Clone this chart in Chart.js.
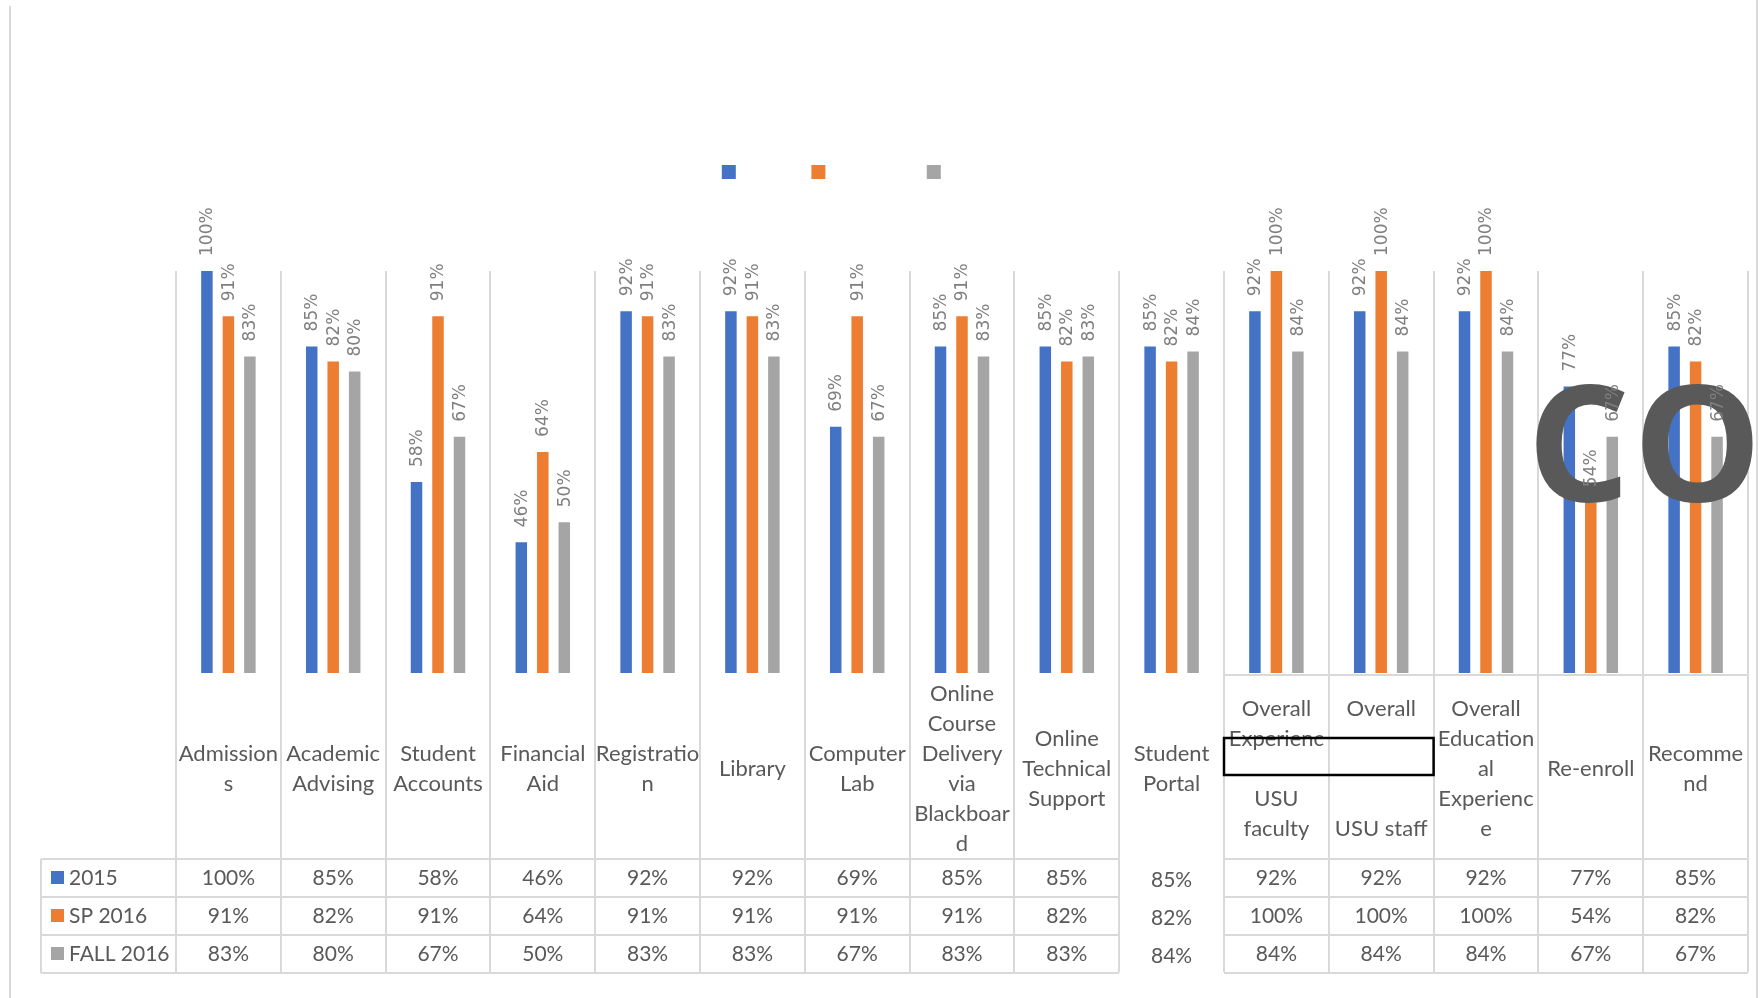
<!DOCTYPE html>
<html>
<head>
<meta charset="utf-8">
<script src="https://cdn.jsdelivr.net/npm/chart.js@4.4.0/dist/chart.umd.min.js"></script>
<style>
  html, body { margin: 0; padding: 0; background: #fff; }
</style>
</head>
<body>
<canvas id="surveyChart" width="1760" height="998"></canvas>
<script>
// category labels, wrapped the way the sheet wraps them
const categories = [
  ['Admission', 's'],
  ['Academic', 'Advising'],
  ['Student', 'Accounts'],
  ['Financial', 'Aid'],
  ['Registratio', 'n'],
  ['Library'],
  ['Computer', 'Lab'],
  ['Online', 'Course', 'Delivery', 'via', 'Blackboar', 'd'],
  ['Online', 'Technical', 'Support'],
  ['Student', 'Portal'],
  ['Overall', 'Experienc', '', 'USU', 'faculty'],
  ['Overall', '', '', '', 'USU staff'],
  ['Overall', 'Education', 'al', 'Experienc', 'e'],
  ['Re-enroll'],
  ['Recomme', 'nd']
];
const seriesNames = ['2015', 'SP 2016', 'FALL 2016'];
const values2015 = [100, 85, 58, 46, 92, 92, 69, 85, 85, 85, 92, 92, 92, 77, 85];
const valuesSp2016 = [91, 82, 91, 64, 91, 91, 91, 91, 82, 82, 100, 100, 100, 54, 82];
const valuesFall2016 = [83, 80, 67, 50, 83, 83, 67, 83, 83, 84, 84, 84, 84, 67, 67];
const seriesColors = ['#4472C4', '#ED7D31', '#A5A5A5'];

const textColor = '#595959';
const lineColor = '#d9d9d9';

// white page + the thin frame lines at the sides
const frame = {
  id: 'frame',
  beforeDraw(chart) {
    const ctx = chart.ctx;
    ctx.save();
    ctx.fillStyle = '#fff';
    ctx.fillRect(0, 0, chart.width, chart.height);
    ctx.strokeStyle = lineColor;
    ctx.lineWidth = 2;
    ctx.beginPath();
    ctx.moveTo(10, 6); ctx.lineTo(10, chart.height);
    ctx.moveTo(1757, 0); ctx.lineTo(1757, chart.height);
    ctx.stroke();
    ctx.restore();
  }
};

// rotated value labels + the big stamp letters
const barLabels = {
  id: 'barLabels',
  afterDatasetsDraw(chart) {
    const ctx = chart.ctx;
    ctx.save();
    ctx.fillStyle = textColor;
    ctx.font = 'bold 162px "Open Sans"';
    ctx.textAlign = 'left';
    ctx.textBaseline = 'alphabetic';
    ctx.fillText('C', 1527, 501);
    ctx.fillText('O', 1633, 501);

    ctx.font = '17px "DejaVu Sans"';
    ctx.fillStyle = '#7f7f7f';
    chart.data.datasets.forEach((ds, i) => {
      chart.getDatasetMeta(i).data.forEach((bar, j) => {
        ctx.save();
        ctx.translate(bar.x + 1, bar.y - 15);
        ctx.rotate(-Math.PI / 2);
        ctx.textAlign = 'left';
        ctx.textBaseline = 'middle';
        ctx.fillText(ds.data[j] + '%', 0, 0);
        ctx.restore();
      });
    });
    ctx.restore();
  }
};

// data table under the axis
const dataTable = {
  id: 'dataTable',
  afterDraw(chart) {
    const ctx = chart.ctx;
    const xs = chart.scales.x;
    const half = (xs.getPixelForValue(1) - xs.getPixelForValue(0)) / 2;
    const top = 859, rowH = 38, left = 41;
    const gapL = xs.getPixelForValue(9) - half;
    const gapR = xs.getPixelForValue(9) + half;
    const rows = [values2015, valuesSp2016, valuesFall2016];

    ctx.save();
    ctx.strokeStyle = lineColor;
    ctx.lineWidth = 2;
    ctx.beginPath();
    for (let r = 0; r <= rows.length; r++) {
      const y = top + r * rowH;
      ctx.moveTo(left, y); ctx.lineTo(gapL, y);
      ctx.moveTo(gapR, y); ctx.lineTo(xs.right, y);
    }
    ctx.moveTo(left, top); ctx.lineTo(left, top + rows.length * rowH);
    ctx.moveTo(gapR, chart.chartArea.bottom + 2); ctx.lineTo(xs.right, chart.chartArea.bottom + 2);
    ctx.stroke();

    // the stray black box over the faculty/staff labels
    ctx.strokeStyle = '#000';
    ctx.lineWidth = 2.5;
    ctx.strokeRect(xs.getPixelForValue(10) - half, 738, 4 * half, 37);

    ctx.font = '21px Lato';
    ctx.textBaseline = 'middle';
    rows.forEach((vals, r) => {
      const cy = top + r * rowH + rowH / 2;
      ctx.fillStyle = seriesColors[r];
      ctx.fillRect(51, cy - 7, 13, 13);
      ctx.fillStyle = textColor;
      ctx.textAlign = 'left';
      ctx.fillText(seriesNames[r], 69, cy);
      ctx.textAlign = 'center';
      vals.forEach((v, i) => {
        const dy = i === 9 ? 2 : 0;
        ctx.fillText(v + '%', xs.getPixelForValue(i), cy + dy);
      });
    });
    ctx.restore();
  }
};

// push the plot down below the legend
const legendGap = {
  id: 'legendGap',
  beforeInit(chart) {
    const fit = chart.legend.fit;
    chart.legend.fit = function () {
      fit.call(this);
      this.height += 81;
    };
  }
};

const ctx = document.getElementById('surveyChart').getContext('2d');
const chart = new Chart(ctx, {
  type: 'bar',
  data: {
    labels: categories,
    datasets: [
      { label: seriesNames[0], data: values2015, backgroundColor: seriesColors[0], borderWidth: 0 },
      { label: seriesNames[1], data: valuesSp2016, backgroundColor: seriesColors[1], borderWidth: 0 },
      { label: seriesNames[2], data: valuesFall2016, backgroundColor: seriesColors[2], borderWidth: 0 }
    ]
  },
  options: {
    responsive: false,
    animation: false,
    devicePixelRatio: 1,
    categoryPercentage: 0.615,
    barPercentage: 0.535,
    layout: { padding: { top: 132, right: 12, bottom: 143, left: 0 } },
    plugins: {
      legend: {
        position: 'top',
        labels: {
          boxWidth: 14,
          boxHeight: 14,
          padding: 32,
          color: 'rgba(0,0,0,0)',
          font: { family: 'Liberation Sans', size: 16 }
        }
      },
      tooltip: { enabled: false }
    },
    scales: {
      x: {
        grid: {
          offset: true,
          color: lineColor,
          lineWidth: 2,
          drawTicks: true,
          tickLength: 299
        },
        border: { display: false },
        ticks: {
          autoSkip: false,
          maxRotation: 0,
          padding: -278,
          crossAlign: 'center',
          color: textColor,
          font: { family: 'Lato', size: 22, lineHeight: 1.36 }
        },
        afterFit(scale) { scale.height = 182; }
      },
      y: {
        min: 20,
        max: 100,
        ticks: { display: false },
        grid: { display: false },
        border: { display: false },
        afterFit(scale) { scale.width = 176; }
      }
    }
  },
  plugins: [frame, legendGap, barLabels, dataTable]
});
</script>
</body>
</html>
